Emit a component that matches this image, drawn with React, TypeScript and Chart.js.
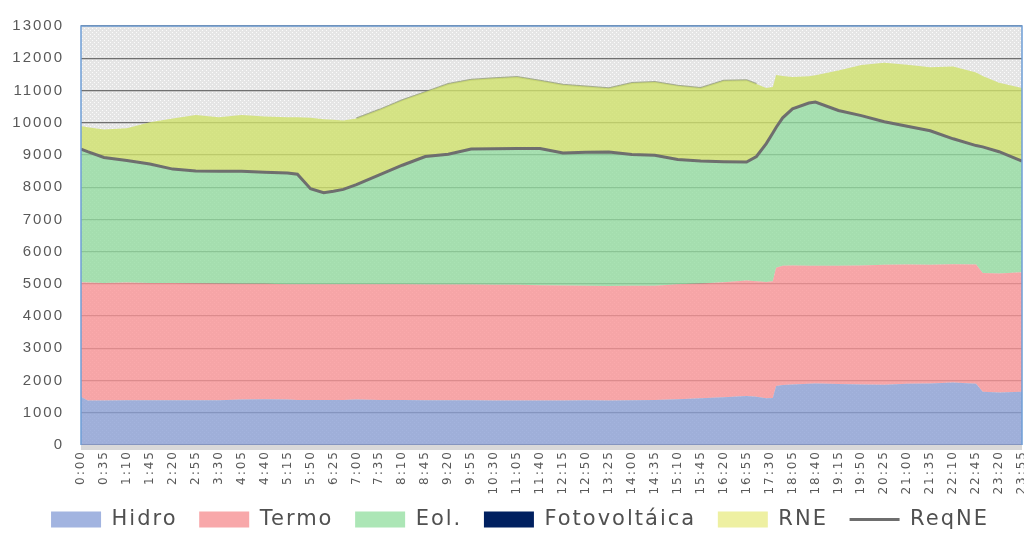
import React, { useEffect, useRef } from 'react';
import { Chart, registerables } from 'chart.js';

Chart.register(...registerables);

// time of day in minutes (samples)
const times = [
  0, 10, 35, 70, 105, 140, 175, 210, 245, 280,
  315, 330, 350, 370, 385, 400, 420, 455, 490, 525,
  560, 595, 630, 665, 700, 735, 770, 805, 840, 875,
  910, 945, 980, 1015, 1030, 1045, 1055, 1060, 1070, 1085,
  1110, 1120, 1155, 1190, 1225, 1260, 1295, 1330, 1365, 1375,
  1400, 1435,
];

const hidro = [
  1500, 1380, 1380, 1390, 1390, 1390, 1390, 1390, 1410, 1420,
  1410, 1400, 1400, 1400, 1400, 1400, 1410, 1400, 1400, 1390,
  1390, 1390, 1380, 1380, 1380, 1380, 1390, 1380, 1390, 1400,
  1420, 1450, 1480, 1520, 1500, 1450, 1460, 1830, 1860, 1880,
  1900, 1910, 1890, 1880, 1870, 1900, 1910, 1940, 1900, 1650,
  1630, 1650,
];

const termo = [
  3550, 3660, 3650, 3650, 3640, 3640, 3630, 3620, 3590, 3580,
  3580, 3590, 3590, 3590, 3590, 3590, 3580, 3590, 3590, 3590,
  3590, 3590, 3590, 3590, 3580, 3570, 3550, 3550, 3550, 3540,
  3570, 3560, 3570, 3580, 3580, 3610, 3620, 3670, 3700, 3690,
  3660, 3650, 3670, 3690, 3720, 3700, 3680, 3670, 3700, 3690,
  3690, 3710,
];

const eol = [
  4130, 4060, 3890, 3790, 3690, 3530, 3480, 3480, 3490, 3460,
  3450, 3410, 2960, 2840, 2880, 2940, 3090, 3390, 3690, 3970,
  4040, 4200, 4220, 4230, 4240, 4110, 4140, 4160, 4070, 4050,
  3870, 3800, 3740, 3680, 3870, 4290, 4600, 4350, 4590, 4860,
  5050, 5080, 4820, 4650, 4440, 4290, 4160, 3890, 3690, 3910,
  3780, 3450,
];

const fotovoltaica = [
  0, 0, 0, 0, 0, 0, 0, 0, 0, 0,
  0, 0, 0, 0, 0, 0, 0, 0, 0, 0,
  0, 0, 0, 0, 0, 0, 0, 0, 0, 0,
  0, 0, 0, 0, 0, 0, 0, 0, 0, 0,
  0, 0, 0, 0, 0, 0, 0, 0, 0, 0,
  0, 0,
];

const rne = [
  720, 760, 870, 1000, 1290, 1570, 1740, 1680, 1750, 1730,
  1730, 1770, 2200, 2280, 2220, 2140, 2050, 2020, 2020, 2000,
  2180, 2150, 2190, 2220, 2100, 2120, 2040, 1980, 2220, 2270,
  2290, 2270, 2510, 2540, 2250, 1730, 1430, 1630, 1300, 990,
  830, 830, 1240, 1570, 1830, 1910, 1970, 2240, 2270, 2200,
  2140, 2270,
];

const reqNE = [
  9180, 9100, 8920, 8830, 8720, 8560, 8500, 8490, 8490, 8460,
  8440, 8400, 7950, 7830, 7870, 7930, 8080, 8380, 8680, 8950,
  9020, 9180, 9190, 9200, 9200, 9060, 9080, 9090, 9010, 8990,
  8860, 8810, 8790, 8780, 8950, 9350, 9680, 9850, 10150, 10430,
  10610, 10640, 10380, 10220, 10030, 9890, 9750, 9500, 9290, 9250,
  9100, 8810,
];

const tickLabels = [
  '0:00', '0:35', '1:10', '1:45', '2:20', '2:55', '3:30', '4:05', '4:40', '5:15',
  '5:50', '6:25', '7:00', '7:35', '8:10', '8:45', '9:20', '9:55', '10:30', '11:05',
  '11:40', '12:15', '12:50', '13:25', '14:00', '14:35', '15:10', '15:45', '16:20', '16:55',
  '17:30', '18:05', '18:40', '19:15', '19:50', '20:25', '21:00', '21:35', '22:10', '22:45',
  '23:20', '23:55',
];

const seriesNames = ['Hidro', 'Termo', 'Eol.', 'Fotovoltáica', 'RNE', 'ReqNE'];
const areaColors = [
  'rgba(140,160,214,0.78)',
  'rgba(251,147,150,0.78)',
  'rgba(147,221,160,0.78)',
  'rgba(0,32,96,1)',
  'rgba(207,225,108,0.8)',
];
const legendColors = ['#a2b4e0', '#f8a8aa', '#ace6b6', '#002060', '#eef0a2', '#6e6e6e'];

export default function App() {
  const ref = useRef<HTMLCanvasElement>(null);

  useEffect(() => {
    const canvas = ref.current;
    if (!canvas) return;

    const tile = document.createElement('canvas');
    tile.width = 4;
    tile.height = 4;
    const tctx = tile.getContext('2d')!;
    tctx.fillStyle = '#e5e5e5';
    tctx.fillRect(0, 0, 4, 4);
    tctx.fillStyle = '#fbfbfb';
    tctx.fillRect(0, 0, 1, 1);
    tctx.fillRect(2, 2, 1, 1);

    const decoPlugin = {
      id: 'plotDeco',
      beforeUpdate(chart: any) {
        (chart.ctx as any).letterSpacing = '2px';
      },
      afterLayout(chart: any) {
        const lg = chart.legend;
        if (lg) {
          lg.left += 9;
          lg.right += 9;
        }
      },
      beforeDraw(chart: any) {
        const ctx = chart.ctx as CanvasRenderingContext2D;
        const a = chart.chartArea;
        ctx.save();
        const pat = ctx.createPattern(tile, 'repeat');
        if (pat) ctx.fillStyle = pat;
        ctx.fillRect(a.left, a.top, a.right - a.left, a.bottom - a.top);
        ctx.restore();
        (ctx as any).letterSpacing = '2px';
      },
      afterDraw(chart: any) {
        const ctx = chart.ctx as CanvasRenderingContext2D;
        const a = chart.chartArea;
        ctx.save();
        ctx.fillStyle = '#d9d9d9';
        ctx.fillRect(a.left, a.bottom, a.right - a.left, 5);
        ctx.strokeStyle = '#6f9ed6';
        ctx.lineWidth = 1.5;
        ctx.beginPath();
        ctx.moveTo(a.left, a.bottom);
        ctx.lineTo(a.left, a.top);
        ctx.lineTo(a.right, a.top);
        ctx.lineTo(a.right, a.bottom);
        ctx.stroke();
        ctx.restore();
      },
    };

    const area = (i: number, data: number[], fill: any) => ({
      label: seriesNames[i],
      data,
      backgroundColor: areaColors[i],
      borderColor: 'rgba(0,0,0,0)',
      borderWidth: 0,
      pointRadius: 0,
      fill,
      tension: 0,
      stack: 'gen',
      order: 1,
    });

    // thin outline along the top of the stack during daytime (no fill)
    const edgeDs: any = {
      label: '',
      data: fotovoltaica.slice(),
      backgroundColor: 'rgba(0,0,0,0)',
      borderColor: 'rgba(0,0,0,0)',
      borderWidth: 2,
      pointRadius: 0,
      fill: false,
      tension: 0,
      stack: 'gen',
      order: 1,
      segment: {
        borderColor: (c: any) =>
          c.p0.parsed.x >= 420 && c.p1.parsed.x <= 1030 ? 'rgba(135,145,105,0.7)' : 'rgba(0,0,0,0)',
      },
    };

    const chart = new Chart(canvas, {
      type: 'line',
      data: {
        labels: times,
        datasets: [
          area(0, hidro, 'origin'),
          area(1, termo, '-1'),
          area(2, eol, '-1'),
          area(3, fotovoltaica, '-1'),
          area(4, rne, '-1'),
          {
            label: seriesNames[5],
            data: reqNE,
            borderColor: '#6e6e6e',
            backgroundColor: '#6e6e6e',
            borderWidth: 3,
            pointRadius: 0,
            fill: false,
            tension: 0,
            stack: 'req',
            order: -1,
          } as any,
          edgeDs,
        ],
      },
      options: {
        responsive: false,
        animation: false,
        layout: { padding: { left: 0, right: 2, top: 19, bottom: 8 } },
        plugins: {
          tooltip: { enabled: false },
          legend: {
            position: 'bottom',
            labels: {
              usePointStyle: true,
              pointStyleWidth: 50,
              boxHeight: 16,
              padding: 13,
              color: '#505050',
              font: { family: 'DejaVu Sans', size: 21 },
              generateLabels: (ch: any) =>
                ch.data.datasets.slice(0, 6).map((ds: any, i: number) => ({
                  text: i === 5 ? ds.label : ds.label + ' ',
                  fillStyle: legendColors[i],
                  strokeStyle: legendColors[i],
                  lineWidth: i === 5 ? 3 : 0,
                  pointStyle: i === 5 ? 'line' : 'rect',
                  hidden: false,
                  datasetIndex: i,
                  fontColor: '#505050',
                })),
            },
          },
        },
        scales: {
          x: {
            type: 'linear',
            min: 0,
            max: 1435,
            grid: { display: false, drawTicks: false },
            border: { display: false },
            afterFit: (s: any) => {
              s.height = 51;
              s.paddingLeft = 0;
              s.paddingRight = 0;
            },
            ticks: {
              stepSize: 35,
              autoSkip: false,
              maxRotation: 90,
              minRotation: 90,
              padding: 5,
              color: '#595959',
              font: { family: 'DejaVu Sans', size: 12 },
              callback: (_v: any, i: number) => tickLabels[i],
            },
          },
          y: {
            stacked: true,
            min: 0,
            max: 13000,
            grid: { color: '#707070', lineWidth: 1.3, drawTicks: false },
            border: { display: false },
            afterFit: (s: any) => {
              s.width = 81;
            },
            ticks: {
              stepSize: 1000,
              padding: 17,
              color: '#595959',
              font: { family: 'Liberation Sans', size: 15 },
              callback: (v: any) => String(v),
            },
          },
        },
      },
      plugins: [decoPlugin as any],
    });

    return () => chart.destroy();
  }, []);

  return (
    <div style={{ position: 'fixed', left: 0, top: 0, width: 1024, height: 548 }}>
      <canvas ref={ref} width={1024} height={548} style={{ display: 'block' }} />
    </div>
  );
}
